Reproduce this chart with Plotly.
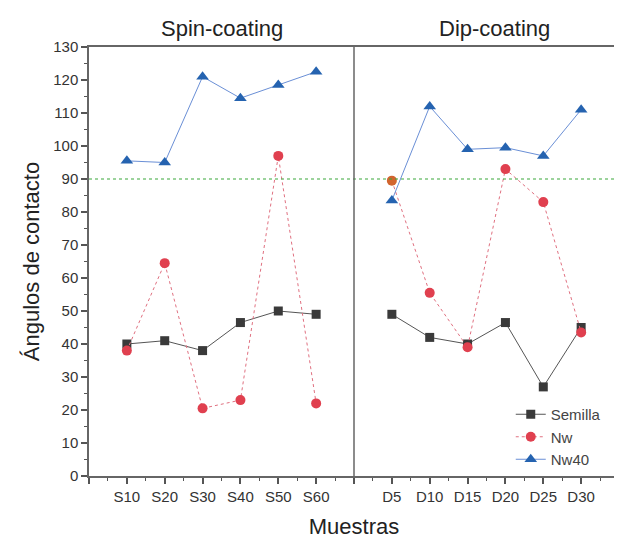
import plotly.graph_objects as go

spin_labels = ["S10", "S20", "S30", "S40", "S50", "S60"]
dip_labels = ["D5", "D10", "D15", "D20", "D25", "D30"]

semilla_spin = [40, 41, 38, 46.5, 50, 49]
nw_spin = [38, 64.5, 20.5, 23, 97, 22]
nw40_spin = [95.5, 95, 121, 114.5, 118.5, 122.5]

semilla_dip = [49, 42, 40, 46.5, 27, 45]
nw_dip = [89.5, 55.5, 39, 93, 83, 43.5]
nw40_dip = [83.5, 112, 99, 99.5, 97, 111]

reference_angle = 90

spin_x = list(range(1, 7))
dip_x = list(range(8, 14))

def joined(a, b):
    return a + [None] + b

xs = spin_x + [7] + dip_x
FONT = "Liberation Sans, Arial, sans-serif"

fig = go.Figure()

nw_marker_colors = ["#e0404f"] * 6 + ["#e0404f"] + ["#d2642e"] + ["#e0404f"] * 5

fig.add_trace(go.Scatter(
    x=xs, y=joined(semilla_spin, semilla_dip), name="Semilla", mode="lines+markers",
    line=dict(color="#555555", width=1),
    marker=dict(symbol="square", size=9, color="#3a3a3a"),
    connectgaps=False,
))
fig.add_trace(go.Scatter(
    x=xs, y=joined(nw_spin, nw_dip), name="Nw", mode="lines+markers",
    line=dict(color="#e07080", width=1, dash="dot"),
    marker=dict(symbol="circle", size=10, color=nw_marker_colors),
    connectgaps=False,
))
fig.add_trace(go.Scatter(
    x=xs, y=joined(nw40_spin, nw40_dip), name="Nw40", mode="lines+markers",
    line=dict(color="#6a8fd6", width=1),
    marker=dict(symbol="triangle-up", size=11, color="#2563b0"),
    connectgaps=False,
))

fig.add_shape(type="line", xref="paper", x0=0, x1=1, yref="y", y0=reference_angle, y1=reference_angle,
              line=dict(color="#3aa83a", width=1.2, dash="dot"))
fig.add_shape(type="line", xref="x", x0=7, x1=7, yref="paper", y0=0, y1=1,
              line=dict(color="#666666", width=1.5))

tickvals = list(range(0, 15))
ticktext = []
for v in tickvals:
    if 1 <= v <= 6:
        ticktext.append(spin_labels[v - 1])
    elif 8 <= v <= 13:
        ticktext.append(dip_labels[v - 8])
    else:
        ticktext.append("")

# page body has an 8px default margin; size the figure to fit the 622x540 window
fig.update_layout(
    width=614, height=532,
    margin=dict(l=81, r=3, t=39, b=64),
    plot_bgcolor="white", paper_bgcolor="white",
    font=dict(family=FONT, color="#333333", size=15),
    showlegend=True,
    legend=dict(x=0.975, y=0.0, xanchor="right", yanchor="bottom",
                bgcolor="rgba(0,0,0,0)", font=dict(size=15, color="#444444"),
                itemwidth=30, tracegroupgap=0),
    annotations=[
        dict(text="Spin-coating", x=3.5, xref="x", y=1.01, yref="paper", showarrow=False,
             xanchor="center", yanchor="bottom", font=dict(size=22, color="#222222")),
        dict(text="Dip-coating", x=10.7, xref="x", y=1.01, yref="paper", showarrow=False,
             xanchor="center", yanchor="bottom", font=dict(size=22, color="#222222")),
    ],
)

fig.update_xaxes(
    range=[0, 14], tickmode="array", tickvals=tickvals, ticktext=ticktext,
    ticks="outside", ticklen=6, tickwidth=1.5, tickcolor="#555555",
    showline=True, linecolor="#666666", linewidth=1.5, mirror=True,
    showgrid=False, zeroline=False, automargin=False,
    tickfont=dict(size=15, color="#333333"),
    minor=dict(tickvals=[i + 0.5 for i in range(0, 14)], ticks="outside", ticklen=3,
               tickcolor="#555555", tickwidth=1, showgrid=False),
    title=dict(text="Muestras", font=dict(size=22, color="#222222"), standoff=15),
)
fig.update_yaxes(
    range=[0, 130], dtick=10, tick0=0,
    ticks="outside", ticklen=6, tickwidth=1.5, tickcolor="#555555",
    showline=True, linecolor="#666666", linewidth=1.5, mirror=True,
    showgrid=False, zeroline=False, automargin=False,
    tickfont=dict(size=15, color="#333333"),
    minor=dict(dtick=5, ticks="outside", ticklen=3, tickcolor="#555555", tickwidth=1, showgrid=False),
    title=dict(text="Ángulos de contacto", font=dict(size=22, color="#222222"), standoff=8),
)

fig.write_html("out.html")
